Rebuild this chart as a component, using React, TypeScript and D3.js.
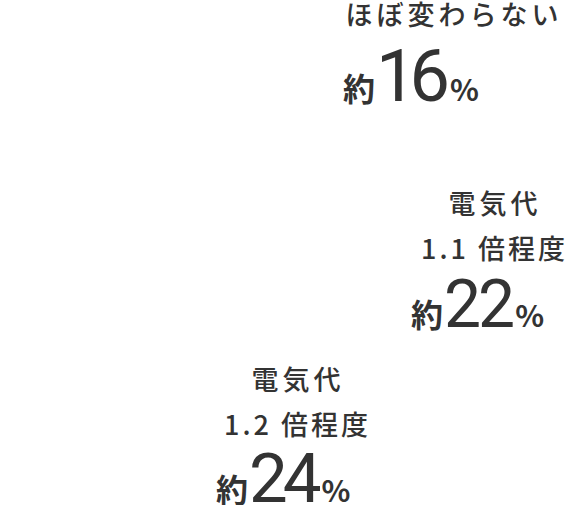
import React, { useEffect, useRef } from 'react';
import * as d3 from 'd3';

// 変化の区分ごとの見出しと割合
const titles: string[][] = [
  ['ほぼ変わらない'],
  ['電気代', '1.1 倍程度'],
  ['電気代', '1.2 倍程度'],
];
const shares: number[] = [16, 22, 24];

// ラベルの配置（見出し中心x, 見出し1行目ベースライン, 数値行の左端x, 数値行ベースライン, 数字サイズ, 字間）
const layout = [
  { cx: 452, ty: 25, vx: 343, vy: 101, size: 72, ls: -7 },
  { cx: 493, ty: 214, vx: 411, vy: 327, size: 66, ls: -3 },
  { cx: 296, ty: 390, vx: 216, vy: 502, size: 69, ls: -5 },
];

const width = 566;
const height = 505;
const ink = '#333333';
const jp = '"Noto Sans CJK JP", "Noto Sans", sans-serif';

const App: React.FC = () => {
  const svgRef = useRef<SVGSVGElement>(null);

  useEffect(() => {
    if (!svgRef.current) return;
    const svg = d3.select(svgRef.current);
    svg.selectAll('*').remove();

    const g = svg
      .selectAll('g.label')
      .data(shares.map((v, i) => ({ v, lines: titles[i], pos: layout[i] })))
      .join('g')
      .attr('class', 'label');

    // 見出し（2行目は数字を含むので字間を少し詰める）
    g.append('text')
      .attr('text-anchor', 'middle')
      .attr('fill', ink)
      .style('font-family', jp)
      .style('font-weight', 500)
      .style('font-size', '27px')
      .selectAll('tspan')
      .data(d => d.lines.map((t, j) => ({ t, j, pos: d.pos })))
      .join('tspan')
      .attr('x', d => d.pos.cx + (d.j ? 1.5 : 2))
      .attr('y', d => d.pos.ty + d.j * 45)
      .style('letter-spacing', d => (d.j ? '3px' : '4px'))
      .text(d => d.t);

    // 約XX%
    const val = g.append('text')
      .attr('x', d => d.pos.vx)
      .attr('y', d => d.pos.vy)
      .attr('fill', ink);

    val.append('tspan')
      .style('font-family', jp)
      .style('font-weight', 700)
      .style('font-size', '32px')
      .text('約');

    val.append('tspan')
      .attr('dx', 1)
      .style('font-family', 'Roboto, sans-serif')
      .style('font-weight', 400)
      .style('font-size', d => `${d.pos.size}px`)
      .style('letter-spacing', d => `${d.pos.ls}px`)
      .text(d => String(d.v));

    val.append('tspan')
      .attr('dx', d => -d.pos.ls)
      .style('font-family', jp)
      .style('font-weight', 700)
      .style('font-size', '30px')
      .text('%');
  }, []);

  return (
    <div style={{ position: 'fixed', left: 0, top: 0, background: '#fff' }}>
      <svg ref={svgRef} width={width} height={height} style={{ display: 'block' }} />
    </div>
  );
};

export default App;
